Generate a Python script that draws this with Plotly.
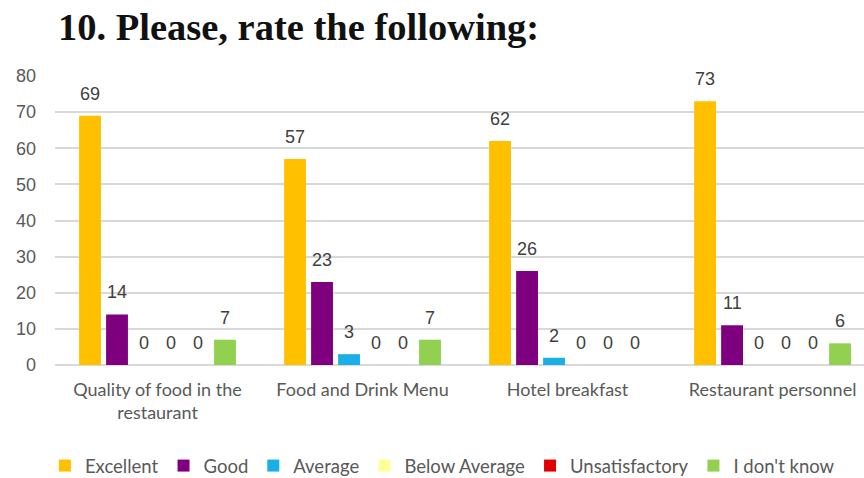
import plotly.graph_objects as go

# Survey question 10: ratings by aspect
categories = ["Quality of food in the<br>restaurant", "Food and Drink Menu",
              "Hotel breakfast", "Restaurant personnel"]
series_names = ["Excellent", "Good", "Average", "Below Average",
                "Unsatisfactory", "I don't know"]
excellent = [69, 57, 62, 73]
good = [14, 23, 26, 11]
average = [0, 3, 2, 0]
below_average = [0, 0, 0, 0]
unsatisfactory = [0, 0, 0, 0]
dont_know = [7, 7, 0, 6]
y_ticks = [0, 10, 20, 30, 40, 50, 60, 70, 80]

series_values = [excellent, good, average, below_average, unsatisfactory, dont_know]
colors = ["#FFC000", "#7F007F", "#1AAFE6", "#FFFF99", "#E00000", "#92D050"]

WIDTH, HEIGHT = 864, 478
MARGIN = dict(l=55, r=0, t=76, b=113)
X_RANGE = [-0.5, 3.446]
BARGAP, BARGROUPGAP = 0.21, 0.19

fig = go.Figure()
for name, vals, col in zip(series_names, series_values, colors):
    fig.add_trace(go.Bar(name=name, x=categories, y=vals,
                         marker=dict(color=col, line_width=0)))

# value labels above each bar, offset to the bar's slot within its group
plot_w = WIDTH - MARGIN["l"] - MARGIN["r"]
px_per_cat = plot_w / (X_RANGE[1] - X_RANGE[0])
slot = px_per_cat * (1 - BARGAP) / len(series_names)
annotations = []
for i, vals in enumerate(series_values):
    shift = (i - (len(series_names) - 1) / 2) * slot
    for cat, v in zip(categories, vals):
        annotations.append(dict(
            x=cat, y=v, xref="x", yref="y", text=str(v), showarrow=False,
            xshift=shift, yshift=22, xanchor="center", yanchor="middle",
            font=dict(family="Liberation Sans, Arial, sans-serif", size=18, color="#404040")))

fig.update_layout(
    width=WIDTH, height=HEIGHT, margin=MARGIN,
    paper_bgcolor="white", plot_bgcolor="white",
    barmode="group", bargap=BARGAP, bargroupgap=BARGROUPGAP,
    showlegend=True,
    legend=dict(orientation="h", xref="container", yref="container",
                x=0.052, y=0.025, xanchor="left", yanchor="middle",
                font=dict(family="Lato, sans-serif", size=18.5, color="#595959"),
                itemwidth=30, traceorder="normal"),
    title=dict(text="<b>10. Please, rate the following:</b>",
               xref="container", yref="container", x=58/864, y=1-27/478,
               xanchor="left", yanchor="middle",
               font=dict(family="Liberation Serif, Times New Roman, serif",
                         size=38.5, color="#111111")),
    annotations=annotations,
)
fig.update_xaxes(type="category", range=X_RANGE,
                 tickfont=dict(family="Lato, sans-serif", size=18, color="#595959"),
                 showline=False, showgrid=False, ticks="", ticklabelstandoff=12)
fig.update_yaxes(range=[0, 80], tickvals=y_ticks, showgrid=True,
                 gridcolor="#D9D9D9", gridwidth=1.5, zeroline=True,
                 zerolinecolor="#D9D9D9", zerolinewidth=1.5,
                 tickfont=dict(family="Liberation Sans, Arial, sans-serif", size=18, color="#595959"),
                 ticklabelstandoff=18)

fig.write_html("out.html")
